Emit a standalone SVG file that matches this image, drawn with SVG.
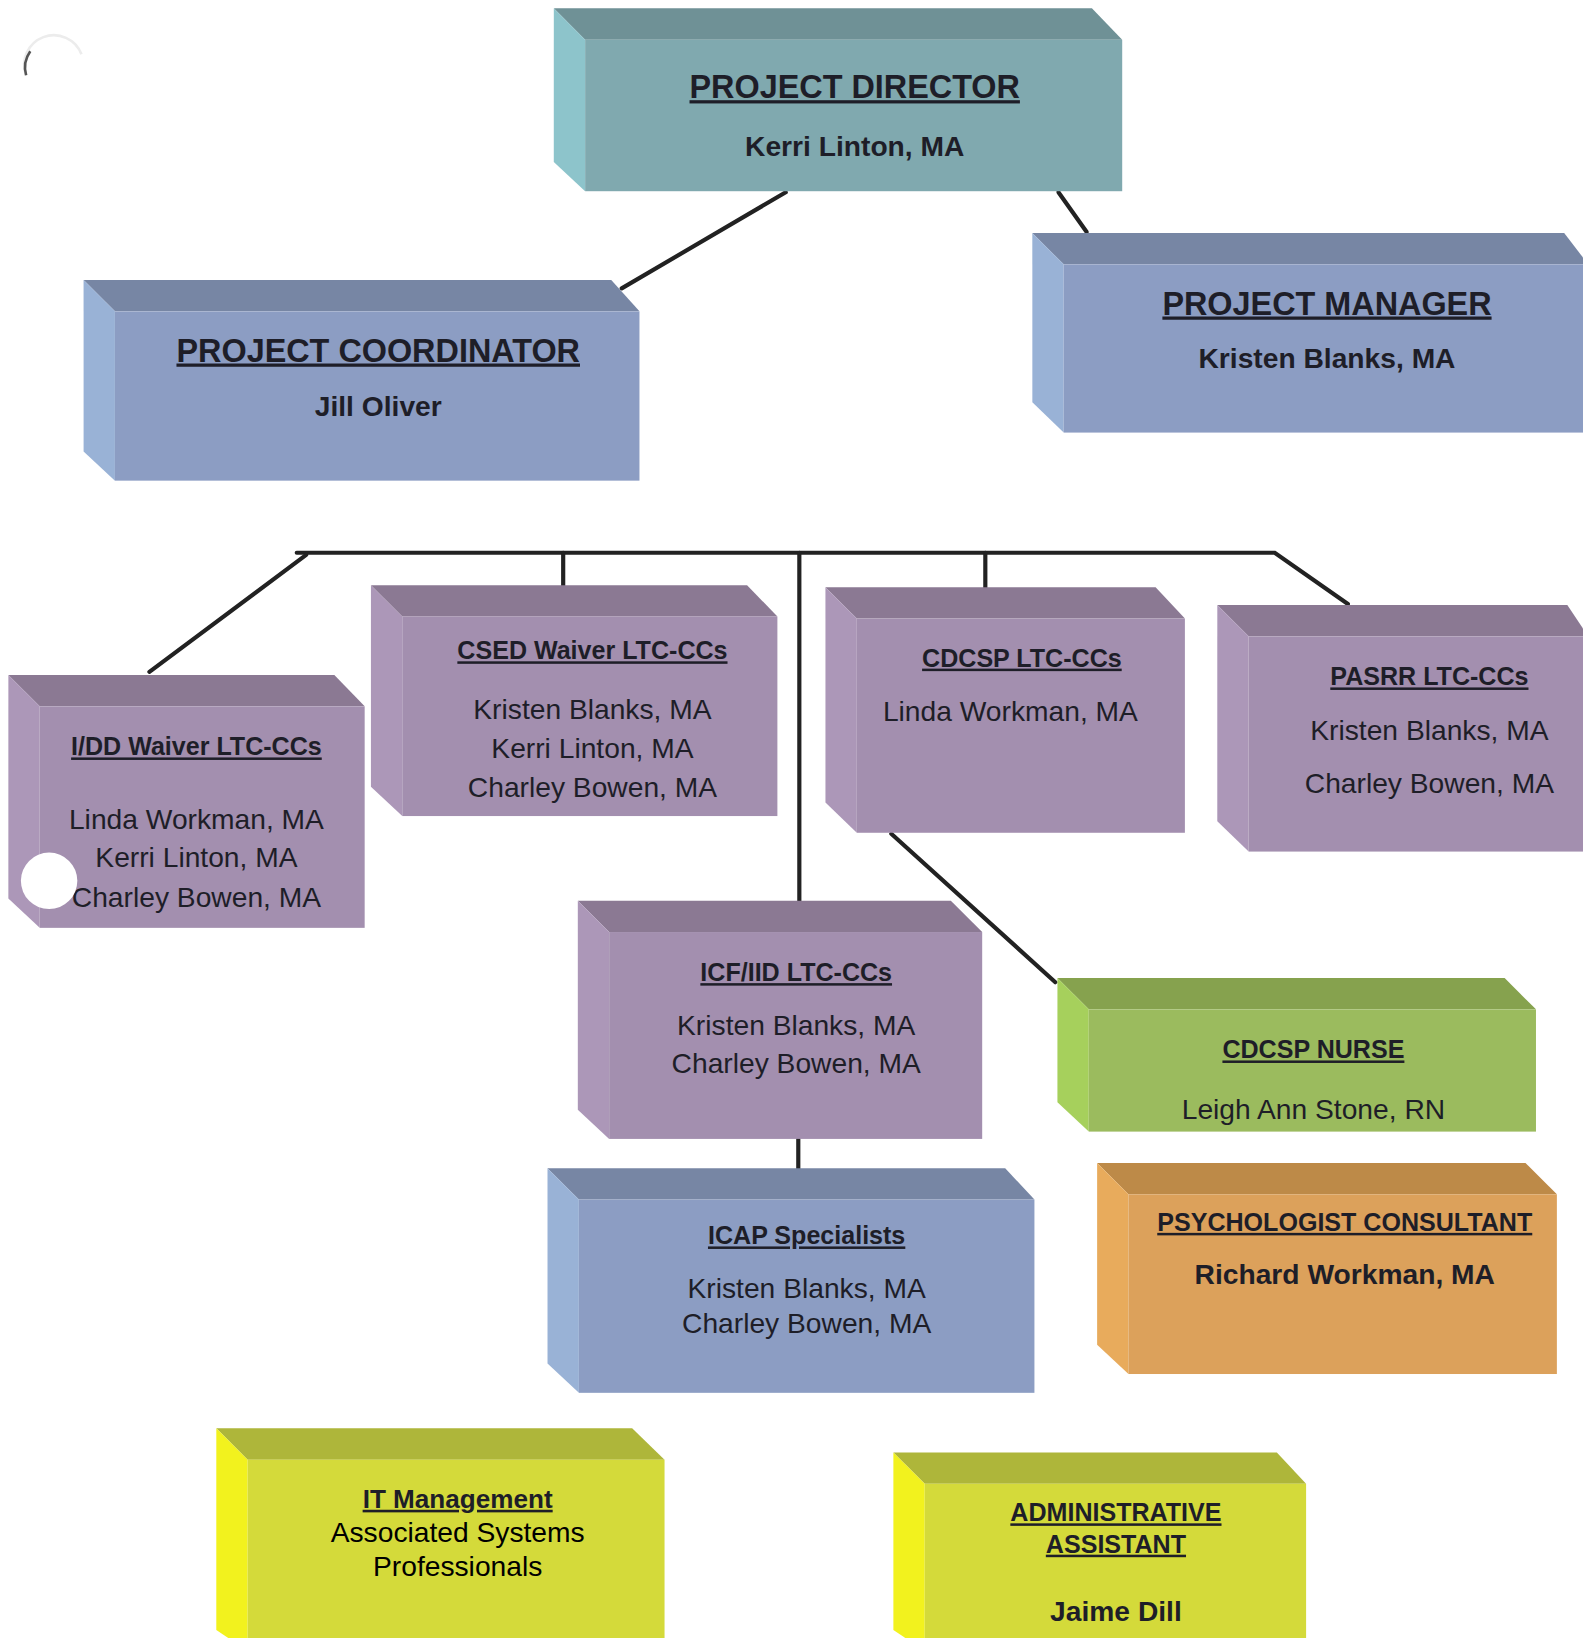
<svg xmlns="http://www.w3.org/2000/svg" width="1583" height="1638" viewBox="0 0 1583 1638">
<style>
text{font-family:"Liberation Sans",Arial,sans-serif;fill:#1e1e28;text-anchor:middle}
.t{font-weight:bold;font-size:31px;text-decoration:underline}
.tb{font-weight:bold;font-size:27px}
.st{font-weight:bold;font-size:24px;text-decoration:underline}
.nm{font-size:27px}
.conn{stroke:#222;stroke-width:4;fill:none;stroke-linecap:round}
.teal .tp{fill:#6F9196}.teal .lf{fill:#8DC4CB}.teal .fr{fill:#80A9AF}
.blue .tp{fill:#7786A4}.blue .lf{fill:#99B2D6}.blue .fr{fill:#8C9DC3}
.purp .tp{fill:#8B7993}.purp .lf{fill:#AC97B8}.purp .fr{fill:#A38FAF}
.grn .tp{fill:#86A24E}.grn .lf{fill:#A6D05C}.grn .fr{fill:#9BBB5E}
.org .tp{fill:#BD8A48}.org .lf{fill:#E8AB5C}.org .fr{fill:#DCA15B}
.yel .tp{fill:#AEB63A}.yel .lf{fill:#F2F21E}.yel .fr{fill:#D4DA3A}
</style>
<rect width="1583" height="1638" fill="#fff"/>
<g transform="scale(1.04488)">
<g id="connectors">
<line class="conn" x1="752" y1="184" x2="595" y2="276"/>
<line class="conn" x1="1013" y1="184" x2="1040" y2="222"/>
<polyline class="conn" points="284,529 775,529 1220,529 1290,578"/>
<line class="conn" x1="293" y1="531" x2="143" y2="643"/>
<line class="conn" x1="539" y1="529" x2="539" y2="560"/>
<line class="conn" x1="765" y1="529" x2="765" y2="864"/>
<line class="conn" x1="943" y1="529" x2="943" y2="563"/>
<line class="conn" x1="853" y1="798" x2="1010" y2="940"/>
<line class="conn" x1="764" y1="1088" x2="764" y2="1120"/>
</g>

<g id="project-director" class="teal">
<polygon class="tp" points="530,8 1045,8 1074,38 560,38"/>
<polygon class="lf" points="530,8 560,38 560,183 530,155"/>
<rect class="fr" x="560" y="38" width="514" height="145"/>
<text class="t" x="818" y="94">PROJECT DIRECTOR</text>
<text class="tb" x="818" y="149">Kerri Linton, MA</text>
</g>

<g id="project-coordinator" class="blue">
<polygon class="tp" points="80,268 585,268 612,298 110,298"/>
<polygon class="lf" points="80,268 110,298 110,460 80,432"/>
<rect class="fr" x="110" y="298" width="502" height="162"/>
<text class="t" x="362" y="346">PROJECT COORDINATOR</text>
<text class="tb" x="362" y="398">Jill Oliver</text>
</g>

<g id="project-manager" class="blue">
<polygon class="tp" points="988,223 1497,223 1520,253 1018,253"/>
<polygon class="lf" points="988,223 1018,253 1018,414 988,385"/>
<rect class="fr" x="1018" y="253" width="502" height="161"/>
<text class="t" x="1270" y="301">PROJECT MANAGER</text>
<text class="tb" x="1270" y="352">Kristen Blanks, MA</text>
</g>

<g id="idd-waiver" class="purp">
<polygon class="tp" points="8,646 320,646 349,676 38,676"/>
<polygon class="lf" points="8,646 38,676 38,888 8,860"/>
<rect class="fr" x="38" y="676" width="311" height="212"/>
<text class="st" x="188" y="723">I/DD Waiver LTC-CCs</text>
<text class="nm" x="188" y="793">Linda Workman, MA</text>
<text class="nm" x="188" y="830">Kerri Linton, MA</text>
<text class="nm" x="188" y="868">Charley Bowen, MA</text>
<circle cx="47" cy="843" r="27" fill="#fff"/>
</g>

<g id="csed-waiver" class="purp">
<polygon class="tp" points="355,560 715,560 744,590 385,590"/>
<polygon class="lf" points="355,560 385,590 385,781 355,753"/>
<rect class="fr" x="385" y="590" width="359" height="191"/>
<text class="st" x="567" y="631">CSED Waiver LTC-CCs</text>
<text class="nm" x="567" y="688">Kristen Blanks, MA</text>
<text class="nm" x="567" y="725">Kerri Linton, MA</text>
<text class="nm" x="567" y="763">Charley Bowen, MA</text>
</g>

<g id="cdcsp-ltc" class="purp">
<polygon class="tp" points="790,562 1106,562 1134,592 820,592"/>
<polygon class="lf" points="790,562 820,592 820,797 790,768"/>
<rect class="fr" x="820" y="592" width="314" height="205"/>
<text class="st" x="978" y="638">CDCSP LTC-CCs</text>
<text class="nm" x="967" y="690">Linda Workman, MA</text>
</g>

<g id="pasrr" class="purp">
<polygon class="tp" points="1165,579 1500,579 1520,609 1195,609"/>
<polygon class="lf" points="1165,579 1195,609 1195,815 1165,786"/>
<rect class="fr" x="1195" y="609" width="325" height="206"/>
<text class="st" x="1368" y="656">PASRR LTC-CCs</text>
<text class="nm" x="1368" y="708">Kristen Blanks, MA</text>
<text class="nm" x="1368" y="759">Charley Bowen, MA</text>
</g>

<g id="icf-iid" class="purp">
<polygon class="tp" points="553,862 910,862 940,892 583,892"/>
<polygon class="lf" points="553,862 583,892 583,1090 553,1062"/>
<rect class="fr" x="583" y="892" width="357" height="198"/>
<text class="st" x="762" y="939">ICF/IID LTC-CCs</text>
<text class="nm" x="762" y="991">Kristen Blanks, MA</text>
<text class="nm" x="762" y="1027">Charley Bowen, MA</text>
</g>

<g id="cdcsp-nurse" class="grn">
<polygon class="tp" points="1012,936 1440,936 1470,966 1042,966"/>
<polygon class="lf" points="1012,936 1042,966 1042,1083 1012,1055"/>
<rect class="fr" x="1042" y="966" width="428" height="117"/>
<text class="st" x="1257" y="1013">CDCSP NURSE</text>
<text class="nm" x="1257" y="1071">Leigh Ann Stone, RN</text>
</g>

<g id="icap" class="blue">
<polygon class="tp" points="524,1118 962,1118 990,1148 554,1148"/>
<polygon class="lf" points="524,1118 554,1148 554,1333 524,1305"/>
<rect class="fr" x="554" y="1148" width="436" height="185"/>
<text class="st" x="772" y="1191">ICAP Specialists</text>
<text class="nm" x="772" y="1242">Kristen Blanks, MA</text>
<text class="nm" x="772" y="1276">Charley Bowen, MA</text>
</g>

<g id="psychologist" class="org">
<polygon class="tp" points="1050,1113 1460,1113 1490,1143 1080,1143"/>
<polygon class="lf" points="1050,1113 1080,1143 1080,1315 1050,1287"/>
<rect class="fr" x="1080" y="1143" width="410" height="172"/>
<text class="st" x="1287" y="1178">PSYCHOLOGIST CONSULTANT</text>
<text class="tb" x="1287" y="1229">Richard Workman, MA</text>
</g>

<g id="it-management" class="yel">
<polygon class="tp" points="207,1367 605,1367 636,1397 237,1397"/>
<polygon class="lf" points="207,1367 237,1397 237,1580 207,1560"/>
<rect class="fr" x="237" y="1397" width="399" height="183"/>
<text class="st" x="438" y="1443" style="font-size:25px">IT Management</text>
<text class="nm" x="438" y="1476" style="fill:#000">Associated Systems</text>
<text class="nm" x="438" y="1508" style="fill:#000">Professionals</text>
</g>

<g id="admin-assistant" class="yel">
<polygon class="tp" points="855,1390 1222,1390 1250,1420 885,1420"/>
<polygon class="lf" points="855,1390 885,1420 885,1580 855,1560"/>
<rect class="fr" x="885" y="1420" width="365" height="160"/>
<text class="st" x="1068" y="1456">ADMINISTRATIVE</text>
<text class="st" x="1068" y="1486">ASSISTANT</text>
<text class="tb" x="1068" y="1551">Jaime Dill</text>
</g>

<g id="artifact">
<path d="M25,72 A27,27 0 0 1 78,52" fill="none" stroke="#ececec" stroke-width="2.5"/>
<path d="M25,72 A27,27 0 0 1 29,49" fill="none" stroke="#555" stroke-width="2.5"/>
</g>
</g>
</svg>
